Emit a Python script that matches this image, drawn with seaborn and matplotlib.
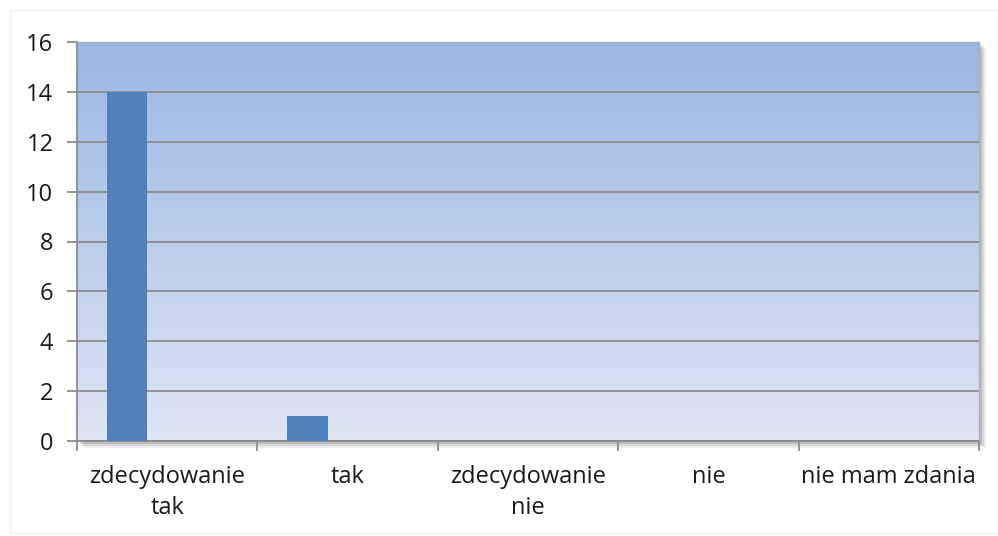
import numpy as np
import pandas as pd
import matplotlib.pyplot as plt
import matplotlib.patches as mpatches
import seaborn as sns

# data
categories = ['zdecydowanie\ntak', 'tak', 'zdecydowanie\nnie', 'nie', 'nie mam zdania']
series1 = [14, 1, 0, 0, 0]
series2 = [0, 0, 0, 0, 0]
series3 = [0, 0, 0, 0, 0]
yticks = [0, 2, 4, 6, 8, 10, 12, 14, 16]

df = pd.DataFrame({
    'kategoria': categories * 3,
    'wartosc': series1 + series2 + series3,
    'seria': ['s1'] * 5 + ['s2'] * 5 + ['s3'] * 5,
})

sns.set_style('white')
plt.rcParams['font.family'] = ['Open Sans', 'DejaVu Sans']

fig = plt.figure(figsize=(9.98, 5.36), dpi=100)
ax = fig.add_axes([77 / 998, 1 - 441 / 536, 902 / 998, 399 / 536])
ax.set_zorder(2)

# light chart border
fig.patches.append(mpatches.Rectangle((10 / 998, 0.005), 0.99, 1 - 10 / 536 - 0.005,
                                      transform=fig.transFigure, fill=False,
                                      edgecolor='#f2f2f2', lw=1, zorder=0))
# soft shadow of plot area
for i, a in enumerate([0.12, 0.2, 0.3]):
    off = 7 - 2 * i
    fig.patches.append(mpatches.Rectangle(((77 + off) / 998, 1 - (441 + off) / 536), 902 / 998, 399 / 536,
                                          transform=fig.transFigure, facecolor='#808080',
                                          edgecolor='none', alpha=a, zorder=0))

sns.barplot(data=df, x='kategoria', y='wartosc', hue='seria',
            palette=['#4F81BD', '#C0504D', '#9BBB59'], width=0.667,
            saturation=1, legend=False, ax=ax, zorder=3, linewidth=0)

# gradient background
grad = np.linspace(0, 1, 256)
top = np.array([155, 182, 227]) / 255
bot = np.array([222, 229, 244]) / 255
img = (top + (bot - top) * grad[:, None]).reshape(256, 1, 3)
ax.imshow(img, extent=[0, 1, 0, 1], transform=ax.transAxes, aspect='auto', zorder=0)
ax.set_xlim(-0.5, 4.5)
ax.set_ylim(0, 16)

ax.set_yticks(yticks)
ax.grid(axis='y', color='#8c8c8c', lw=1.3)
for gl in ax.get_ygridlines():
    gl.set_zorder(1)
ax.set_xlabel('')
ax.set_ylabel('')

for s in ['top', 'right']:
    ax.spines[s].set_color('#b0b0b0')
    ax.spines[s].set_linewidth(1)
for s in ['left', 'bottom']:
    ax.spines[s].set_color('#8c8c8c')
    ax.spines[s].set_linewidth(1.3)

ax.tick_params(axis='y', length=7, width=1.3, color='#8c8c8c', pad=10,
               labelsize=17, labelcolor='#1a1a1a', left=True)
ax.set_xticks(np.arange(-0.5, 5, 1), minor=True)
ax.tick_params(axis='x', which='major', length=0, pad=17, labelsize=17, labelcolor='#1a1a1a')
ax.tick_params(axis='x', which='minor', length=7, width=1.3, color='#8c8c8c', bottom=True)
for t in ax.get_xticklabels():
    t.set_linespacing(1.4)

fig.savefig('out.png', dpi=100)
